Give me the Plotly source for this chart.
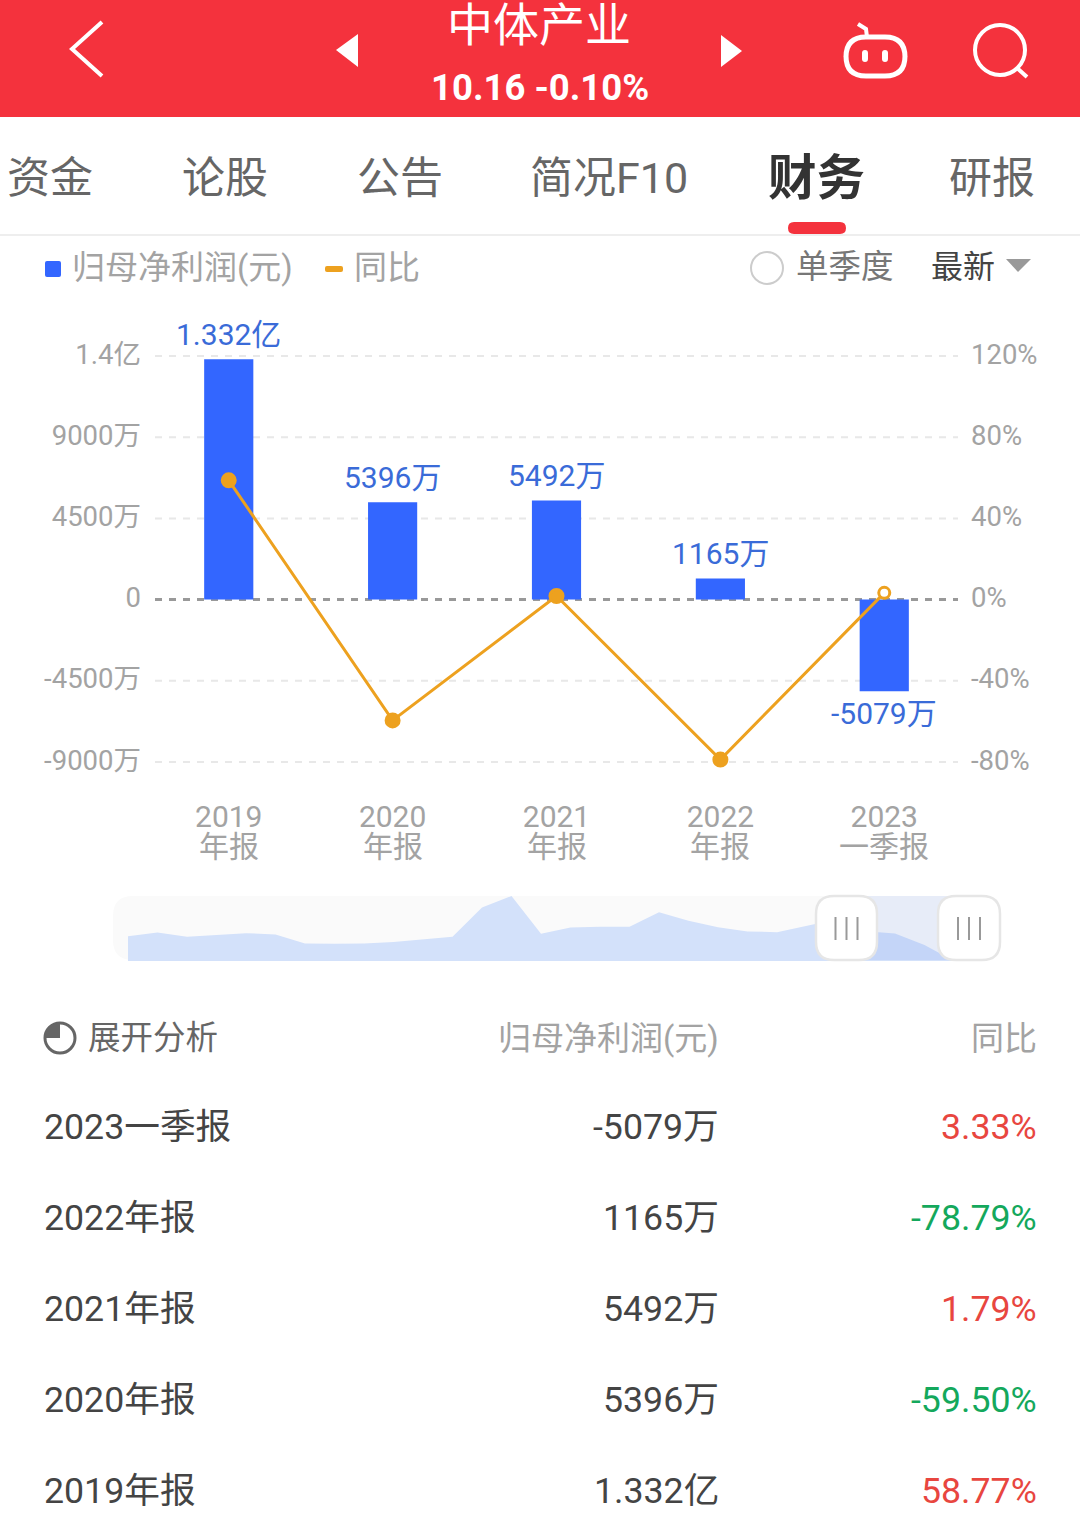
import plotly.graph_objects as go

W, H = 1080, 1525

# chart data
periods = ['2019', '2020', '2021', '2022', '2023']
period_sub = ['年报', '年报', '年报', '年报', '一季报']
profit = [13320, 5396, 5492, 1165, -5079]  # 万元
profit_labels = ['1.332亿', '5396万', '5492万', '1165万', '-5079万']
yoy = [58.77, -59.50, 1.79, -78.79, 3.33]

left_ticks = [-9000, -4500, 0, 4500, 9000, 13500]
left_labels = ['-9000万', '-4500万', '0', '4500万', '9000万', '1.4亿']
right_ticks = [-80, -40, 0, 40, 80, 120]
right_labels = ['-80%', '-40%', '0%', '40%', '80%', '120%']

# range slider overview
mini_values = [75, 86, 73, 79, 84, 80, 53, 52, 53, 57, 65, 73, 161, 196, 82,
               101, 103, 103, 147, 121, 102, 89, 87, 105, 125, 90, 83, 48, 0]

# table under the chart
table_names = ['2023一季报', '2022年报', '2021年报', '2020年报', '2019年报']
table_profit = ['-5079万', '1165万', '5492万', '5396万', '1.332亿']
table_yoy = ['3.33%', '-78.79%', '1.79%', '-59.50%', '58.77%']
table_yoy_up = [True, False, True, False, True]

tabs = ['资金', '论股', '公告', '简况F10', '财务', '研报']
tab_x = [50, 225, 400, 609, 816, 992]

FONT = "Roboto, 'Noto Sans CJK SC', sans-serif"
RED = '#f4323d'
BLUE = '#3366ff'
ORANGE = '#eda11f'
GREY = '#a3a3a3'


def px(x):
    return x / W


def py(y):
    return 1 - y / H


def poly(points, close=False):
    s = 'M ' + ' L '.join(f'{px(x):.5f} {py(y):.5f}' for x, y in points)
    return s + (' Z' if close else '')


def round_rect(x0, y0, x1, y1, r):
    def p(x, y):
        return f'{px(x):.5f} {py(y):.5f}'
    return (f'M {p(x0 + r, y0)} L {p(x1 - r, y0)} Q {p(x1, y0)} {p(x1, y0 + r)} '
            f'L {p(x1, y1 - r)} Q {p(x1, y1)} {p(x1 - r, y1)} '
            f'L {p(x0 + r, y1)} Q {p(x0, y1)} {p(x0, y1 - r)} '
            f'L {p(x0, y0 + r)} Q {p(x0, y0)} {p(x0 + r, y0)} Z')


shapes = []
annotations = []


def rect(x0, y0, x1, y1, color, layer='above'):
    shapes.append(dict(type='rect', xref='paper', yref='paper', x0=px(x0), x1=px(x1),
                       y0=py(y1), y1=py(y0), fillcolor=color, line_width=0, layer=layer))


def path(d, fill='rgba(0,0,0,0)', line=None, width=0, layer='above'):
    shapes.append(dict(type='path', xref='paper', yref='paper', path=d, fillcolor=fill,
                       line=dict(color=line or 'rgba(0,0,0,0)', width=width), layer=layer))


def circle(cx, cy, r, fill='rgba(0,0,0,0)', line=None, width=0):
    shapes.append(dict(type='circle', xref='paper', yref='paper', x0=px(cx - r), x1=px(cx + r),
                       y0=py(cy + r), y1=py(cy - r), fillcolor=fill,
                       line=dict(color=line or 'rgba(0,0,0,0)', width=width)))


def label(x, y, text, size, color, anchor='center', family=FONT):
    annotations.append(dict(xref='paper', yref='paper', x=px(x), y=py(y), text=text,
                            showarrow=False, xanchor=anchor, yanchor='middle', borderpad=0,
                            font=dict(size=size, color=color, family=family)))


# header bar
rect(0, 0, W, 117, RED)
path(poly([(102, 22), (72, 49), (102, 76)]), line='white', width=4)
path(poly([(358, 34), (336, 50), (358, 67)], close=True), fill='white')
path(poly([(721, 35), (742, 51), (721, 67)], close=True), fill='white')
label(539, 25, '中体产业', 46, 'white')
label(540, 87, '<b>10.16 -0.10%</b>', 36.5, 'white', family="'Liberation Sans Narrow', Roboto")
path(round_rect(846, 37, 905, 76, 20), line='white', width=5)
path(poly([(867, 37), (866, 29), (858, 24)]), line='white', width=4)
path(round_rect(862, 50, 868, 62, 3), fill='white')
path(round_rect(882, 50, 888, 62, 3), fill='white')
circle(1000, 50, 25, line='white', width=4)
path(poly([(1017, 68), (1027, 77)]), line='white', width=4)

# tabs
for name, x in zip(tabs, tab_x):
    if name == '财务':
        label(x, 178, f'<b>{name}</b>', 48.5, '#333333')
    else:
        label(x, 178, name, 43, '#666666')
path(round_rect(788, 222, 846, 234, 6), fill=RED)
rect(0, 234.5, W, 235.5, '#dddddd')

# legend row
path(round_rect(45, 261, 61, 277, 2), fill=BLUE)
label(71, 267, '归母净利润(元)', 33, GREY, 'left')
path(round_rect(325, 266, 343, 272, 2), fill=ORANGE)
label(353, 267, '同比', 33, GREY, 'left')
circle(767, 268, 16, line='#cccccc', width=2)
label(795, 267, '单季度', 32.5, '#777777', 'left')
label(930, 267, '最新', 32, '#444444', 'left')
path(poly([(1006, 259), (1031, 259), (1018, 272)], close=True), fill='#999999')

# grid as shapes, the zero line is darker than the others
for tick in left_ticks:
    shapes.append(dict(type='line', xref='paper', yref='y', x0=px(155), x1=px(958), y0=tick, y1=tick,
                       line=dict(color='#999999' if tick == 0 else '#e8e8e8',
                                 width=3 if tick == 0 else 2, dash='7px,7px'),
                       layer='below'))

# second line of the category labels
for i, sub in enumerate(period_sub):
    annotations.append(dict(xref='x', yref='paper', x=i, y=py(846), text=sub, showarrow=False,
                            xanchor='center', yanchor='middle',
                            font=dict(size=30, color=GREY, family=FONT)))

# bar value labels
for i, (val, text) in enumerate(zip(profit, profit_labels)):
    annotations.append(dict(xref='x', yref='y', x=i, y=val, text=text, showarrow=False,
                            xanchor='center', yanchor='middle', yshift=25 if val > 0 else -22,
                            font=dict(size=30, color='#3a6bd8', family=FONT)))

# range slider
path(round_rect(113, 896, 1000, 960, 20), fill='#fafafa', layer='below')
rect(847, 896, 969, 960, 'rgba(40,100,230,0.09)')
for x0, x1 in [(816, 877), (938, 1000)]:
    path(round_rect(x0, 896, x1, 960, 18), fill='white', line='#e6e6e6', width=2.5)
    mid = (x0 + x1) / 2
    for dx in (-11, 0, 11):
        path(poly([(mid + dx, 917), (mid + dx, 940)]), line='#999999', width=2)

# table head
circle(60, 1038, 15, line='#666666', width=3)
path(f'M {px(60):.5f} {py(1038):.5f} L {px(60):.5f} {py(1023):.5f} '
     f'Q {px(45):.5f} {py(1023):.5f} {px(45):.5f} {py(1038):.5f} Z', fill='#666666')
label(87, 1038, '展开分析', 32.5, '#666666', 'left')
label(720, 1038, '归母净利润(元)', 33, GREY, 'right')
label(1038, 1038, '同比', 33, GREY, 'right')

# table rows
row_y = [1127, 1218, 1309, 1400, 1491]
for y, name, val, pct, up in zip(row_y, table_names, table_profit, table_yoy, table_yoy_up):
    label(43, y, name, 35.7, '#444444', 'left')
    label(720, y, val, 35.7, '#444444', 'right')
    label(1038, y, pct, 35.7, '#e8463f' if up else '#14a85c', 'right')

fig = go.Figure()

fig.add_trace(go.Bar(
    x=list(range(len(periods))),
    y=profit,
    width=0.3,
    marker=dict(color=BLUE, line_width=0),
    yaxis='y',
    xaxis='x',
))

fig.add_trace(go.Scatter(
    x=list(range(len(periods))),
    y=yoy,
    mode='lines+markers',
    line=dict(color=ORANGE, width=3),
    marker=dict(size=[13, 13, 13, 13, 11],
                color=[ORANGE, ORANGE, ORANGE, ORANGE, 'white'],
                opacity=1,
                line=dict(color=ORANGE, width=3)),
    cliponaxis=False,
    yaxis='y2',
    xaxis='x',
))

fig.add_trace(go.Scatter(
    x=list(range(len(mini_values))),
    y=mini_values,
    mode='lines',
    line_width=0,
    fill='tozeroy',
    fillcolor='#d3e1fa',
    xaxis='x3',
    yaxis='y3',
))

fig.update_layout(
    template='none',
    width=W,
    height=H,
    margin=dict(l=0, r=0, t=0, b=0, pad=0),
    paper_bgcolor='white',
    plot_bgcolor='rgba(0,0,0,0)',
    showlegend=False,
    font=dict(family=FONT),
    shapes=shapes,
    annotations=annotations,
    xaxis=dict(
        domain=[px(155), px(958)],
        range=[-0.45, 4.45],
        tickvals=list(range(len(periods))),
        ticktext=periods,
        tickfont=dict(size=30, color=GREY),
        ticklabelstandoff=33,
        ticks='',
        showgrid=False,
        zeroline=False,
        showline=False,
        automargin=False,
        anchor='y',
    ),
    yaxis=dict(
        domain=[py(763), py(355)],
        range=[-9055.4, 13555.4],
        tickvals=left_ticks,
        ticktext=left_labels,
        tickfont=dict(size=27.5, color=GREY),
        ticklabelstandoff=13,
        ticklabelshift=-2,
        ticks='',
        showgrid=False,
        zeroline=False,
        automargin=False,
    ),
    yaxis2=dict(
        overlaying='y',
        side='right',
        range=[-80.4926, 120.4926],
        tickvals=right_ticks,
        ticktext=right_labels,
        tickfont=dict(size=27.5, color=GREY),
        ticklabelstandoff=12,
        ticklabelshift=-2,
        ticks='',
        showgrid=False,
        zeroline=False,
        automargin=False,
    ),
    xaxis3=dict(domain=[px(128), px(954)], range=[0, 28], visible=False, anchor='y3', automargin=False),
    yaxis3=dict(domain=[py(961), py(896)], range=[0, 196], visible=False, anchor='x3', automargin=False),
)

fig.write_html("out.html", config={'displayModeBar': False},
               post_script="document.body.style.margin='0';")
